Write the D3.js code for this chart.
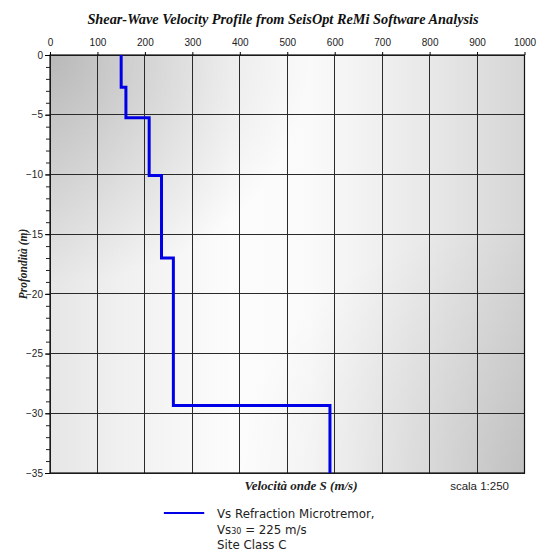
<!DOCTYPE html>
<html><head><meta charset="utf-8">
<script src="https://cdn.jsdelivr.net/npm/d3@7"></script>
<style>body{margin:0;background:#fff}svg{display:block}</style>
</head><body>
<svg id="c" width="538" height="552"></svg>
<script>
const title = "Shear-Wave Velocity Profile from SeisOpt ReMi Software Analysis";
const velocityTicks = [0,100,200,300,400,500,600,700,800,900,1000];
const depthTicks = [0,-5,-10,-15,-20,-25,-30,-35];
const layerVelocity = [150,160,209,235,260,590];      // m/s
const layerTop =      [0,2.7,5.25,10.1,17,29.35];      // m
const layerBottom =   [2.7,5.25,10.1,17,29.35,35];    // m
const xLabel = "Velocità onde S (m/s)";
const yLabel = "Profondità (m)";
const scaleNote = "scala 1:250";
const legendLines = ["Vs Refraction Microtremor,", "Vs30 = 225 m/s", "Site Class C"];

(function(){
const svg = d3.select("#c");
const L=50, R=524.5, T=55, B=473;
const x = d3.scaleLinear().domain([0,1000]).range([L,R]);
const y = d3.scaleLinear().domain([0,-35]).range([T,B]);

const defs = svg.append("defs");
const lg = defs.append("linearGradient").attr("id","bg").attr("x1",0).attr("x2",1).attr("y1",0).attr("y2",0);
[[0,"#e6e6e6"],[0.15,"#f0f0f0"],[0.38,"#fcfcfc"],[0.55,"#fafafa"],[0.8,"#e8e8e8"],[1,"#d6d6d6"]]
  .forEach(s=>lg.append("stop").attr("offset",s[0]).attr("stop-color",s[1]));
const rg = defs.append("radialGradient").attr("id","tl").attr("cx",0).attr("cy",0).attr("r",0.55);
rg.append("stop").attr("offset",0).attr("stop-color","#000").attr("stop-opacity",0.2);
rg.append("stop").attr("offset",1).attr("stop-color","#000").attr("stop-opacity",0);
const rg2 = defs.append("radialGradient").attr("id","br").attr("cx",1).attr("cy",1).attr("r",0.6);
rg2.append("stop").attr("offset",0).attr("stop-color","#000").attr("stop-opacity",0.1);
rg2.append("stop").attr("offset",1).attr("stop-color","#000").attr("stop-opacity",0);

svg.append("rect").attr("x",L).attr("y",T).attr("width",R-L).attr("height",B-T).attr("fill","url(#bg)");
svg.append("rect").attr("x",L).attr("y",T).attr("width",R-L).attr("height",B-T).attr("fill","url(#tl)");
svg.append("rect").attr("x",L).attr("y",T).attr("width",R-L).attr("height",B-T).attr("fill","url(#br)");

// grid
const g = svg.append("g").attr("stroke","#2a2a2a").attr("stroke-width",1).attr("shape-rendering","crispEdges");
g.selectAll(".vx").data(velocityTicks).join("line")
  .attr("x1",d=>x(d)).attr("x2",d=>x(d)).attr("y1",T).attr("y2",B);
g.selectAll(".hy").data(depthTicks).join("line")
  .attr("x1",L).attr("x2",R).attr("y1",d=>y(d)).attr("y2",d=>y(d));
svg.append("rect").attr("x",L).attr("y",T).attr("width",R-L).attr("height",B-T)
  .attr("fill","none").attr("stroke","#111").attr("stroke-width",1.2);

// top axis
const topAxis = d3.axisTop(x).tickValues(velocityTicks).tickSize(3).tickPadding(6).tickFormat(d3.format("d"));
const ta = svg.append("g").attr("transform",`translate(0,${T})`).call(topAxis);
ta.select(".domain").remove();
ta.selectAll("text").attr("font-family","Liberation Sans, Arial, sans-serif").attr("font-size",10).attr("fill","#222");

// left axis
const minor = d3.range(0,-36,-1);
const la = svg.append("g").attr("transform",`translate(${L},0)`)
  .call(d3.axisLeft(y).tickValues(minor).tickSize(4).tickFormat(""));
la.select(".domain").remove();
la.selectAll("line").attr("stroke","#222");
const lb = svg.append("g").attr("transform",`translate(${L},0)`)
  .call(d3.axisLeft(y).tickValues(depthTicks).tickSize(5).tickPadding(2).tickFormat(d3.format("d")));
lb.select(".domain").remove();
lb.selectAll("text").attr("font-family","Liberation Sans, Arial, sans-serif").attr("font-size",10).attr("fill","#222");

// profile
const pts = [];
layerVelocity.forEach((v,i)=>{ pts.push([v,-layerTop[i]]); pts.push([v,-layerBottom[i]]); });
svg.append("path").datum(pts)
  .attr("d", d3.line().x(d=>x(d[0])).y(d=>y(d[1])))
  .attr("fill","none").attr("stroke","#0000e6").attr("stroke-width",3).attr("stroke-linejoin","miter");

// texts
svg.append("text").attr("x",283).attr("y",24).attr("text-anchor","middle")
  .attr("font-family","Liberation Serif, Times New Roman, serif").attr("font-weight","bold").attr("font-style","italic")
  .attr("font-size",14.3).attr("fill","#111").text(title);
svg.append("text").attr("x",301).attr("y",490).attr("text-anchor","middle")
  .attr("font-family","Liberation Serif, Times New Roman, serif").attr("font-weight","bold").attr("font-style","italic")
  .attr("font-size",13).attr("fill","#222").text(xLabel);
svg.append("text").attr("transform","translate(27,264) rotate(-90)").attr("text-anchor","middle")
  .attr("font-family","Liberation Serif, Times New Roman, serif").attr("font-weight","bold").attr("font-style","italic")
  .attr("font-size",11.5).attr("fill","#222").text(yLabel);
svg.append("text").attr("x",509).attr("y",490).attr("text-anchor","end")
  .attr("font-family","Liberation Sans, Arial, sans-serif").attr("font-size",11.5).attr("fill","#222").text(scaleNote);

// legend
svg.append("line").attr("x1",x(240)).attr("x2",x(325)).attr("y1",513).attr("y2",513)
  .attr("stroke","#0000e6").attr("stroke-width",2.2);
const lgText = svg.append("g").attr("font-family","DejaVu Sans, sans-serif").attr("font-size",11.8).attr("fill","#222");
lgText.append("text").attr("x",217).attr("y",518).text(legendLines[0]);
const t2 = lgText.append("text").attr("x",217).attr("y",534);
t2.append("tspan").text("Vs");
t2.append("tspan").attr("font-size",8).text("30");
t2.append("tspan").text(" = 225 m/s");
lgText.append("text").attr("x",217).attr("y",549).text(legendLines[2]);
})();
</script>
</body></html>
